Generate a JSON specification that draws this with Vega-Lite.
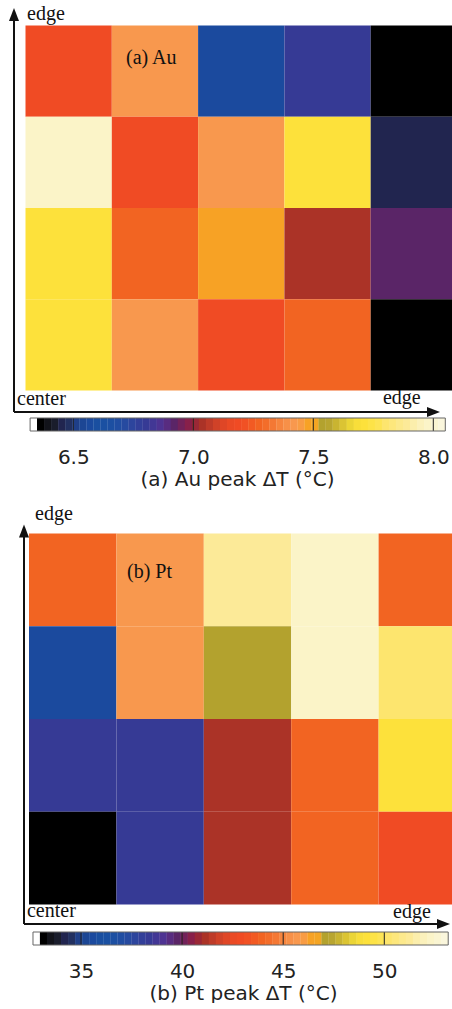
{
 "$schema": "https://vega.github.io/schema/vega-lite/v6.json",
 "padding": 0,
 "background": "white",
 "bounds": "flush",
 "spacing": 0,
 "config": {
  "view": {"stroke": null},
  "range": {"heatmap": ["#ffffff","#000000","#12131a","#1a1d2c","#21254f","#223060","#1f3f88","#1c4694","#1b4a9e","#1a4fa0","#1a50a2","#1c4fa2","#204da2","#264aa0","#2d459d","#323f99","#363a95","#423795","#4e3392","#582c80","#5a2567","#72225a","#88204a","#9a2836","#ab3327","#be3b29","#d04228","#df4626","#ea4a25","#f04b24","#f15124","#f25a23","#f26422","#f36d2a","#f47834","#f6853e","#f79048","#f8984e","#f89c44","#f7a225","#f4a523","#b3a22e","#b8a530","#c9b431","#dbc433","#ebd536","#f8de3a","#fde13b","#fde347","#fde455","#fde56e","#fde77c","#fce98c","#fcea98","#fbeeac","#fbf1bc","#fbf4c8","#faf5d2","#faf6dc"]}
 },
 "resolve": {"scale": {"color": "independent"}},
 "datasets": {
  "au": [
   {"col":0,"row":3,"dT":7.18},{"col":1,"row":3,"dT":7.42},{"col":2,"row":3,"dT":6.57},{"col":3,"row":3,"dT":6.80},{"col":4,"row":3,"dT":6.36},
   {"col":0,"row":2,"dT":7.98},{"col":1,"row":2,"dT":7.19},{"col":2,"row":2,"dT":7.41},{"col":3,"row":2,"dT":7.71},{"col":4,"row":2,"dT":6.45},
   {"col":0,"row":1,"dT":7.71},{"col":1,"row":1,"dT":7.27},{"col":2,"row":1,"dT":7.48},{"col":3,"row":1,"dT":7.04},{"col":4,"row":1,"dT":6.92},
   {"col":0,"row":0,"dT":7.72},{"col":1,"row":0,"dT":7.42},{"col":2,"row":0,"dT":7.18},{"col":3,"row":0,"dT":7.27},{"col":4,"row":0,"dT":6.36}
  ],
  "pt": [
   {"col":0,"row":3,"dT":43.9},{"col":1,"row":3,"dT":45.7},{"col":2,"row":3,"dT":51.2},{"col":3,"row":3,"dT":52.3},{"col":4,"row":3,"dT":43.95},
   {"col":0,"row":2,"dT":35.6},{"col":1,"row":2,"dT":45.65},{"col":2,"row":2,"dT":47.1},{"col":3,"row":2,"dT":52.25},{"col":4,"row":2,"dT":50.2},
   {"col":0,"row":1,"dT":38.4},{"col":1,"row":1,"dT":38.35},{"col":2,"row":1,"dT":41.2},{"col":3,"row":1,"dT":43.9},{"col":4,"row":1,"dT":49.2},
   {"col":0,"row":0,"dT":33.1},{"col":1,"row":0,"dT":38.4},{"col":2,"row":0,"dT":41.1},{"col":3,"row":0,"dT":43.95},{"col":4,"row":0,"dT":42.9}
  ],
  "cbau": [
   {"v":6.3347},{"v":6.3640},{"v":6.3933},{"v":6.4226},{"v":6.4520},{"v":6.4813},{"v":6.5106},{"v":6.5399},{"v":6.5693},{"v":6.5986},
   {"v":6.6279},{"v":6.6572},{"v":6.6865},{"v":6.7159},{"v":6.7452},{"v":6.7745},{"v":6.8038},{"v":6.8332},{"v":6.8625},{"v":6.8918},
   {"v":6.9211},{"v":6.9504},{"v":6.9798},{"v":7.0091},{"v":7.0384},{"v":7.0677},{"v":7.0971},{"v":7.1264},{"v":7.1557},{"v":7.1850},
   {"v":7.2143},{"v":7.2437},{"v":7.2730},{"v":7.3023},{"v":7.3316},{"v":7.3610},{"v":7.3903},{"v":7.4196},{"v":7.4489},{"v":7.4782},
   {"v":7.5076},{"v":7.5369},{"v":7.5662},{"v":7.5955},{"v":7.6249},{"v":7.6542},{"v":7.6835},{"v":7.7128},{"v":7.7421},{"v":7.7715},
   {"v":7.8008},{"v":7.8301},{"v":7.8594},{"v":7.8888},{"v":7.9181},{"v":7.9474},{"v":7.9767},{"v":8.0060},{"v":8.0354}
  ],
  "cbpt": [
   {"v":32.800},{"v":33.148},{"v":33.496},{"v":33.844},{"v":34.192},{"v":34.540},{"v":34.888},{"v":35.236},{"v":35.584},{"v":35.932},
   {"v":36.280},{"v":36.628},{"v":36.977},{"v":37.325},{"v":37.673},{"v":38.021},{"v":38.369},{"v":38.717},{"v":39.065},{"v":39.413},
   {"v":39.761},{"v":40.109},{"v":40.457},{"v":40.805},{"v":41.153},{"v":41.501},{"v":41.849},{"v":42.197},{"v":42.545},{"v":42.893},
   {"v":43.241},{"v":43.589},{"v":43.937},{"v":44.285},{"v":44.633},{"v":44.981},{"v":45.329},{"v":45.677},{"v":46.026},{"v":46.374},
   {"v":46.722},{"v":47.070},{"v":47.418},{"v":47.766},{"v":48.114},{"v":48.462},{"v":48.810},{"v":49.158},{"v":49.506},{"v":49.854},
   {"v":50.202},{"v":50.550},{"v":50.898},{"v":51.246},{"v":51.594},{"v":51.942},{"v":52.290},{"v":52.638},{"v":52.986}
  ],
  "tau": [{"t":6.5},{"t":7.0},{"t":7.5},{"t":8.0}],
  "tpt": [{"t":35},{"t":40},{"t":45},{"t":50}]
 },
 "vconcat": [
  {
   "width": 452, "height": 418,
   "data": {"values": [{}]},
   "layer": [
    {"data": {"name": "au"}, "mark": {"type": "rect", "clip": true, "binSpacing": 0},
     "encoding": {
      "x": {"field": "col", "type": "quantitative", "bin": {"binned": true, "step": 1}, "scale": {"domain": [-0.2897, 4.9479], "nice": false, "zero": false}, "axis": null},
      "y": {"field": "row", "type": "quantitative", "bin": {"binned": true, "step": 1}, "scale": {"domain": [-0.3068, 4.274], "nice": false, "zero": false}, "axis": null},
      "color": {"field": "dT", "type": "quantitative", "scale": {"type": "quantize", "domain": [6.32, 8.05], "range": "heatmap", "nice": false, "zero": false}, "legend": null}
     }},
    {"mark": {"type": "rule", "color": "#111", "strokeWidth": 2},
     "encoding": {"x": {"datum": -0.1275}, "y": {"datum": -0.2411}, "y2": {"datum": 4.1151}}},
    {"mark": {"type": "rule", "color": "#111", "strokeWidth": 2},
     "encoding": {"x": {"datum": -0.1275}, "x2": {"datum": 4.7335}, "y": {"datum": -0.2411}}},
    {"mark": {"type": "point", "shape": "M-0.77,1L0,-1L0.77,1Z", "size": 169, "filled": true, "opacity": 1, "color": "#111"},
     "encoding": {"x": {"datum": -0.1275}, "y": {"datum": 4.1151}}},
    {"mark": {"type": "point", "shape": "M-1,-0.77L1,0L-1,0.77Z", "size": 169, "filled": true, "opacity": 1, "color": "#111"},
     "encoding": {"x": {"datum": 4.7335}, "y": {"datum": -0.2411}}},
    {"mark": {"type": "text", "text": "edge", "align": "left", "baseline": "alphabetic", "font": "Liberation Serif", "fontSize": 20, "color": "#111"},
     "encoding": {"x": {"datum": 0.0232}, "y": {"datum": 4.0548}}},
    {"mark": {"type": "text", "text": "(a) Au", "align": "left", "baseline": "alphabetic", "font": "Liberation Serif", "fontSize": 20, "color": "#111"},
     "encoding": {"x": {"datum": 1.1703}, "y": {"datum": 3.5726}}},
    {"mark": {"type": "text", "text": "center", "align": "left", "baseline": "alphabetic", "font": "Liberation Serif", "fontSize": 20, "color": "#111"},
     "encoding": {"x": {"datum": -0.0927}, "y": {"datum": -0.1644}}},
    {"mark": {"type": "text", "text": "edge", "align": "left", "baseline": "alphabetic", "font": "Liberation Serif", "fontSize": 20, "color": "#111"},
     "encoding": {"x": {"datum": 4.148}, "y": {"datum": -0.1534}}}
   ]
  },
  {
   "width": 452, "height": 13,
   "data": {"values": [{}]},
   "layer": [
    {"data": {"name": "cbau"}, "mark": {"type": "tick", "thickness": 7.3, "size": 13, "opacity": 1, "orient": "vertical"},
     "encoding": {
      "x": {"field": "v", "type": "quantitative", "scale": {"domain": [6.19458, 8.07792], "nice": false, "zero": false},
       "axis": {"values": [6.5, 7.0, 7.5, 8.0], "format": ".1f", "ticks": false, "domain": false, "grid": false, "labelPadding": 16, "labelFont": "DejaVu Sans", "labelFontSize": 20, "labelColor": "#222", "labelFlush": false, "labelOverlap": false,
        "title": "(a) Au peak ΔT (°C)", "titleFont": "DejaVu Sans", "titleFontSize": 20, "titleFontWeight": "normal", "titleColor": "#222", "titlePadding": 2, "titleX": 237}},
      "color": {"field": "v", "type": "quantitative", "scale": {"type": "quantize", "domain": [6.32, 8.05], "range": "heatmap", "nice": false, "zero": false}, "legend": null}
     }},
    {"data": {"name": "tau"}, "mark": {"type": "rule", "color": "#222", "strokeWidth": 1},
     "encoding": {"x": {"field": "t", "type": "quantitative"}}},
    {"mark": {"type": "rect", "fillOpacity": 0, "stroke": "#666", "strokeWidth": 1},
     "encoding": {"x": {"datum": 6.32}, "x2": {"datum": 8.05}}}
   ]
  },
  {
   "width": 452, "height": 501,
   "data": {"values": [{}]},
   "layer": [
    {"data": {"name": "pt"}, "mark": {"type": "rect", "clip": true, "binSpacing": 0},
     "encoding": {
      "x": {"field": "col", "type": "quantitative", "bin": {"binned": true, "step": 1}, "scale": {"domain": [-0.3261, 4.8455], "nice": false, "zero": false}, "axis": null},
      "y": {"field": "row", "type": "quantitative", "bin": {"binned": true, "step": 1}, "scale": {"domain": [-0.3019, 5.0997], "nice": false, "zero": false}, "axis": null},
      "color": {"field": "dT", "type": "quantitative", "scale": {"type": "quantize", "domain": [32.626, 53.1604], "range": "heatmap", "nice": false, "zero": false}, "legend": null}
     }},
    {"mark": {"type": "rule", "color": "#111", "strokeWidth": 2},
     "encoding": {"x": {"datum": -0.0515}, "y": {"datum": -0.2156}, "y2": {"datum": 4.0216}}},
    {"mark": {"type": "rule", "color": "#111", "strokeWidth": 2},
     "encoding": {"x": {"datum": -0.0515}, "x2": {"datum": 4.748}, "y": {"datum": -0.2156}}},
    {"mark": {"type": "point", "shape": "M-0.77,1L0,-1L0.77,1Z", "size": 169, "filled": true, "opacity": 1, "color": "#111"},
     "encoding": {"x": {"datum": -0.0515}, "y": {"datum": 4.0216}}},
    {"mark": {"type": "point", "shape": "M-1,-0.77L1,0L-1,0.77Z", "size": 169, "filled": true, "opacity": 1, "color": "#111"},
     "encoding": {"x": {"datum": 4.748}, "y": {"datum": -0.2156}}},
    {"mark": {"type": "text", "text": "edge", "align": "left", "baseline": "alphabetic", "font": "Liberation Serif", "fontSize": 20, "color": "#111"},
     "encoding": {"x": {"datum": 0.0744}, "y": {"datum": 4.1402}}},
    {"mark": {"type": "text", "text": "(b) Pt", "align": "left", "baseline": "alphabetic", "font": "Liberation Serif", "fontSize": 20, "color": "#111"},
     "encoding": {"x": {"datum": 1.127}, "y": {"datum": 3.5148}}},
    {"mark": {"type": "text", "text": "center", "align": "left", "baseline": "alphabetic", "font": "Liberation Serif", "fontSize": 20, "color": "#111"},
     "encoding": {"x": {"datum": -0.0172}, "y": {"datum": -0.1402}}},
    {"mark": {"type": "text", "text": "edge", "align": "left", "baseline": "alphabetic", "font": "Liberation Serif", "fontSize": 20, "color": "#111"},
     "encoding": {"x": {"datum": 4.1705}, "y": {"datum": -0.1509}}}
   ]
  },
  {
   "width": 452, "height": 13,
   "data": {"values": [{}]},
   "layer": [
    {"data": {"name": "cbpt"}, "mark": {"type": "tick", "thickness": 7.3, "size": 13, "opacity": 1, "orient": "vertical"},
     "encoding": {
      "x": {"field": "v", "type": "quantitative", "scale": {"domain": [30.994, 53.348], "nice": false, "zero": false},
       "axis": {"values": [35, 40, 45, 50], "format": "d", "ticks": false, "domain": false, "grid": false, "labelPadding": 16, "labelFont": "DejaVu Sans", "labelFontSize": 20, "labelColor": "#222", "labelFlush": false, "labelOverlap": false,
        "title": "(b) Pt peak ΔT (°C)", "titleFont": "DejaVu Sans", "titleFontSize": 20, "titleFontWeight": "normal", "titleColor": "#222", "titlePadding": 2, "titleX": 243}},
      "color": {"field": "v", "type": "quantitative", "scale": {"type": "quantize", "domain": [32.626, 53.1604], "range": "heatmap", "nice": false, "zero": false}, "legend": null}
     }},
    {"data": {"name": "tpt"}, "mark": {"type": "rule", "color": "#222", "strokeWidth": 1},
     "encoding": {"x": {"field": "t", "type": "quantitative"}}},
    {"mark": {"type": "rect", "fillOpacity": 0, "stroke": "#666", "strokeWidth": 1},
     "encoding": {"x": {"datum": 32.626}, "x2": {"datum": 53.1604}}}
   ]
  }
 ]
}
